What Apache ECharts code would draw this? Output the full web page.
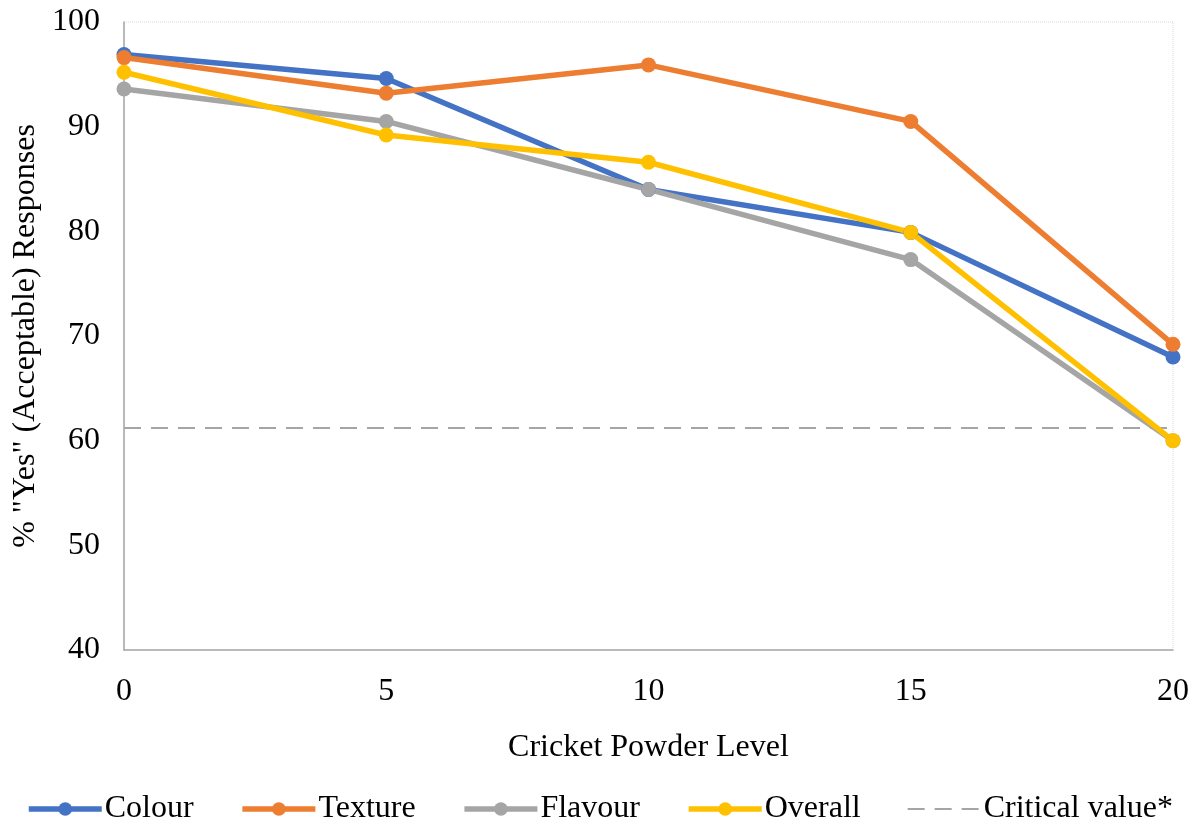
<!DOCTYPE html>
<html>
<head>
<meta charset="utf-8">
<script src="https://cdn.jsdelivr.net/npm/echarts@6/dist/echarts.min.js"></script>
<style>
  html, body { margin: 0; padding: 0; background: #fff; }
  #chart { width: 1198px; height: 822px; }
</style>
</head>
<body>
<div id="chart"></div>
<script>
var levels = ['0', '5', '10', '15', '20'];
var colour = [96.9, 94.6, 84.0, 79.9, 68.0];
var texture = [96.6, 93.2, 95.9, 90.5, 69.2];
var flavour = [93.6, 90.5, 84.0, 77.3, 60.0];
var overall = [95.2, 89.2, 86.6, 79.9, 60.0];
var criticalValue = [61.2, 61.2, 61.2, 61.2, 61.2];

var myChart = echarts.init(document.getElementById('chart'));
var font = '"Liberation Serif", "Times New Roman", serif';

function lineSeries(name, data, color) {
    return {
        name: name,
        type: 'line',
        data: data,
        symbol: 'circle',
        symbolSize: 15,
        itemStyle: { color: color },
        lineStyle: { color: color, width: 5.5 }
    };
}

var option = {
    animation: false,
    textStyle: { fontFamily: font, color: '#000' },
    grid: {
        left: 124, right: 25, top: 22, bottom: 172,
        show: true,
        borderColor: '#d9d9d9',
        borderWidth: 1,
        borderType: 'dotted'
    },
    legend: {
        top: 788,
        left: 21,
        itemWidth: 73,
        itemHeight: 17,
        itemGap: 46,
        lineStyle: { width: 5.5 },
        textStyle: { fontFamily: font, fontSize: 32, color: '#000', padding: [0, 0, 0, -2] },
        data: [
            'Colour', 'Texture', 'Flavour', 'Overall',
            { name: 'Critical value*', itemStyle: { opacity: 0 }, lineStyle: { width: 2 } }
        ]
    },
    xAxis: {
        type: 'category',
        data: levels,
        boundaryGap: false,
        name: 'Cricket Powder Level',
        nameLocation: 'middle',
        nameGap: 82,
        nameTextStyle: { fontFamily: font, fontSize: 32, color: '#000' },
        axisLine: { lineStyle: { color: '#a6a6a6', width: 1.5 } },
        axisTick: { show: false },
        axisLabel: { fontFamily: font, fontSize: 32, color: '#000', margin: 26 },
        splitLine: { show: false }
    },
    yAxis: {
        type: 'value',
        min: 40,
        max: 100,
        interval: 10,
        name: '% "Yes" (Acceptable) Responses',
        nameLocation: 'middle',
        nameGap: 82,
        nameTextStyle: { fontFamily: font, fontSize: 32, color: '#000' },
        axisLine: { show: true, lineStyle: { color: '#a6a6a6', width: 1.5 } },
        axisTick: { show: false },
        axisLabel: { fontFamily: font, fontSize: 32, color: '#000', margin: 24 },
        splitLine: { show: false }
    },
    series: [
        lineSeries('Colour', colour, '#4472C4'),
        lineSeries('Texture', texture, '#ED7D31'),
        lineSeries('Flavour', flavour, '#A5A5A5'),
        lineSeries('Overall', overall, '#FFC000'),
        {
            name: 'Critical value*',
            type: 'line',
            data: criticalValue,
            symbol: 'none',
            z: 1,
            itemStyle: { color: '#a5a5a5' },
            lineStyle: { color: '#a5a5a5', width: 2, type: [17, 10] }
        }
    ]
};

myChart.setOption(option);
</script>
</body>
</html>
